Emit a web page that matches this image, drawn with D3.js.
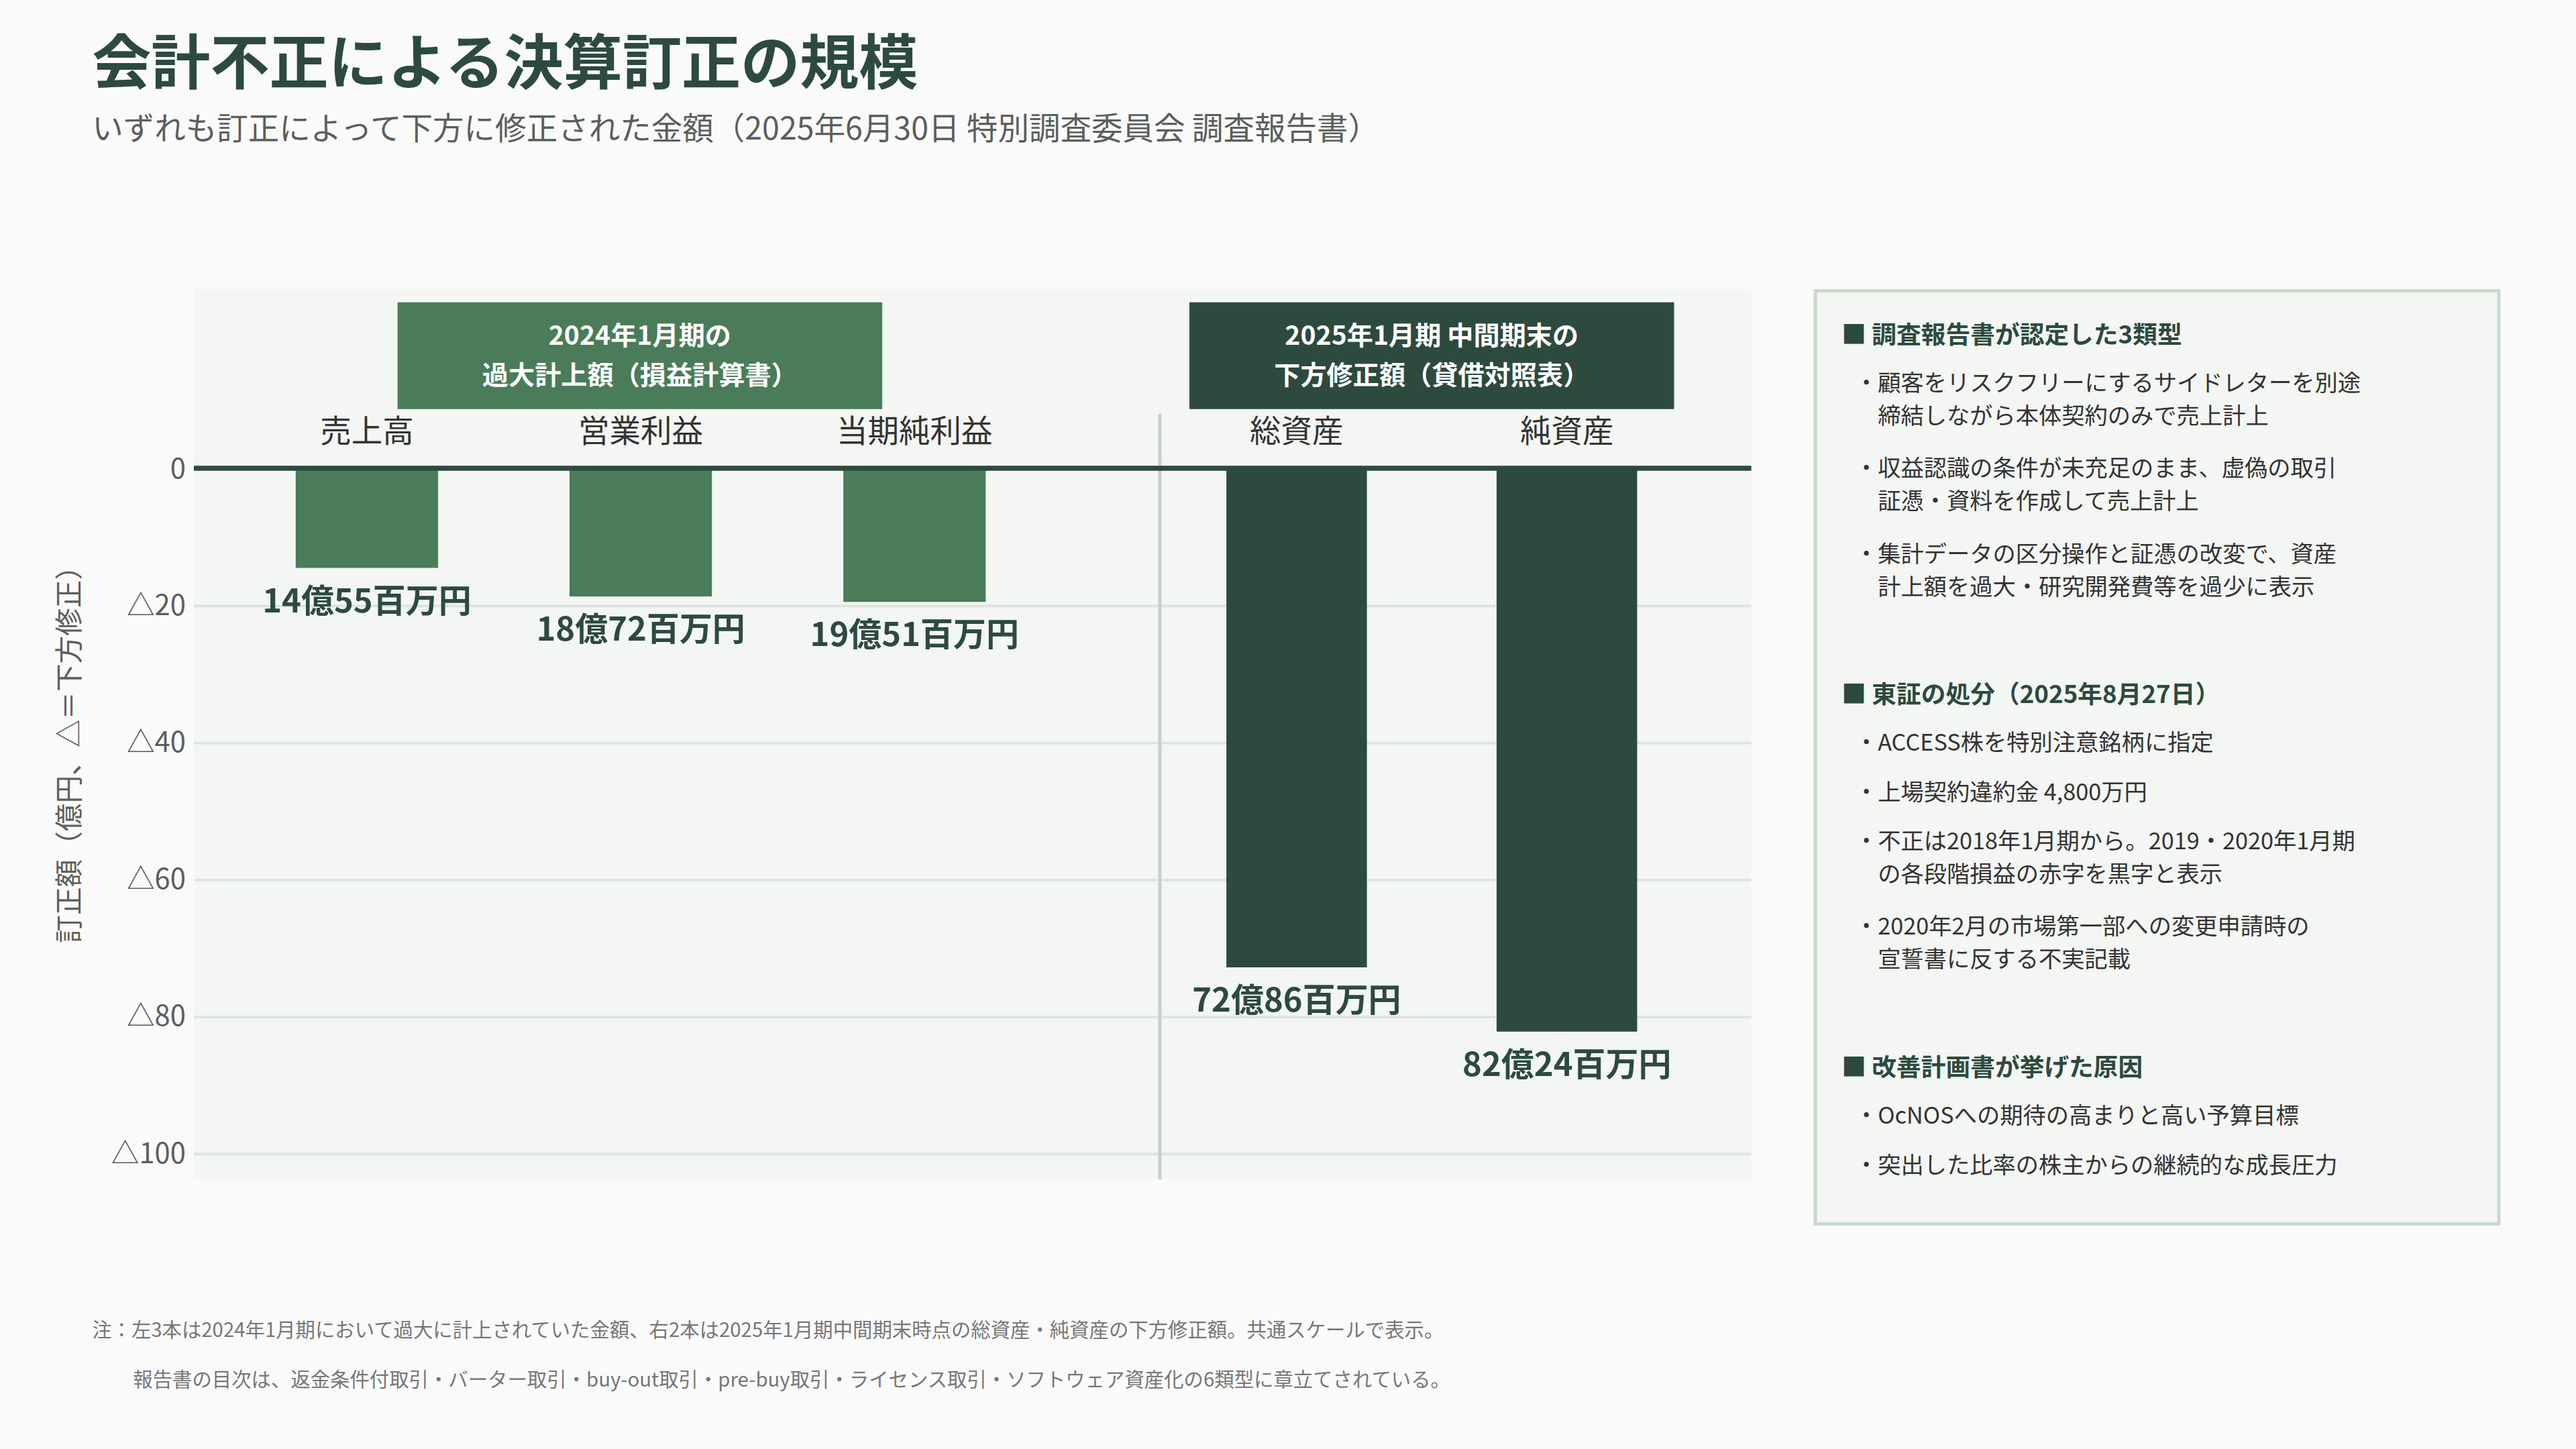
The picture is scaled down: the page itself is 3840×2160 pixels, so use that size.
<!DOCTYPE html>
<html>
<head>
<meta charset="utf-8">
<script src="https://cdn.jsdelivr.net/npm/d3@7"></script>
<style>
  html, body { margin: 0; padding: 0; background: #fafafa; }
  svg { display: block; font-family: "Noto Sans CJK JP", "Noto Sans", sans-serif; }
</style>
</head>
<body>
<svg id="chart"></svg>
<script>
// data
let pnlCategories = ['売上高', '営業利益', '当期純利益'];
let pnlValues = [14.55, 18.72, 19.51];
let pnlLabels = ['14億55百万円', '18億72百万円', '19億51百万円'];

let bsCategories = ['総資産', '純資産'];
let bsValues = [72.86, 82.24];
let bsLabels = ['72億86百万円', '82億24百万円'];

let yTicks = [0, 20, 40, 60, 80, 100];

let panelSections = [
  { head: '■ 調査報告書が認定した3類型', items: [
    ['・顧客をリスクフリーにするサイドレターを別途', '　締結しながら本体契約のみで売上計上'],
    ['・収益認識の条件が未充足のまま、虚偽の取引', '　証憑・資料を作成して売上計上'],
    ['・集計データの区分操作と証憑の改変で、資産', '　計上額を過大・研究開発費等を過少に表示']
  ]},
  { head: '■ 東証の処分（2025年8月27日）', items: [
    ['・ACCESS株を特別注意銘柄に指定'],
    ['・上場契約違約金 4,800万円'],
    ['・不正は2018年1月期から。2019・2020年1月期', '　の各段階損益の赤字を黒字と表示'],
    ['・2020年2月の市場第一部への変更申請時の', '　宣誓書に反する不実記載']
  ]},
  { head: '■ 改善計画書が挙げた原因', items: [
    ['・OcNOSへの期待の高まりと高い予算目標'],
    ['・突出した比率の株主からの継続的な成長圧力']
  ]}
];

let darkGreen = '#2d4a3e', midGreen = '#4a7c59';

let svg = d3.select('#chart')
  .attr('width', 3840).attr('height', 2160)
  .attr('viewBox', '0 0 1568 882');

svg.append('rect').attr('width', 1568).attr('height', 882).attr('fill', '#fafafa');

// title
svg.append('text').attr('x', 56).attr('y', 51)
  .attr('font-size', 36).attr('font-weight', 700).attr('fill', darkGreen)
  .text('会計不正による決算訂正の規模');
svg.append('text').attr('x', 56).attr('y', 85)
  .attr('font-size', 19).attr('fill', '#5a5f5c')
  .text('いずれも訂正によって下方に修正された金額（2025年6月30日 特別調査委員会 調査報告書）');

// plot area
let plot = { left: 118, right: 1066, top: 176, bottom: 718 };
svg.append('rect')
  .attr('x', plot.left).attr('y', plot.top)
  .attr('width', plot.right - plot.left).attr('height', plot.bottom - plot.top)
  .attr('fill', '#f3f6f3');

let y = d3.scaleLinear().domain([0, 100]).range([285, 702]);

let yAxis = svg.append('g')
  .attr('transform', 'translate(' + plot.left + ',0)')
  .call(d3.axisLeft(y).tickValues(yTicks)
    .tickSize(-(plot.right - plot.left))
    .tickFormat(d => d === 0 ? '0' : '△' + d));
yAxis.select('.domain').remove();
yAxis.selectAll('line').attr('stroke', '#dde3de').attr('stroke-width', 1.5);
yAxis.selectAll('text').attr('font-size', 17).attr('fill', '#5a5f5c')
  .attr('x', -5).attr('font-family', '"Noto Sans CJK JP", sans-serif');

svg.append('text')
  .attr('transform', 'translate(48,455) rotate(-90)')
  .attr('text-anchor', 'middle').attr('font-size', 17).attr('fill', '#5a5f5c')
  .text('訂正額（億円、△＝下方修正）');

// divider
svg.append('line').attr('x1', 706).attr('x2', 706).attr('y1', 252).attr('y2', plot.bottom)
  .attr('stroke', '#c5d0c8').attr('stroke-width', 2);

function drawGroup(cats, vals, labels, range, color, boxX, headLines) {
  let x = d3.scaleBand().domain(cats).range(range).paddingInner(0.48).paddingOuter(0.24);
  let g = svg.append('g');
  g.selectAll('rect.bar').data(vals).enter().append('rect')
    .attr('x', (d, i) => x(cats[i]))
    .attr('y', y(0))
    .attr('width', x.bandwidth())
    .attr('height', d => y(d) - y(0))
    .attr('fill', color);
  g.selectAll('text.val').data(vals).enter().append('text')
    .attr('x', (d, i) => x(cats[i]) + x.bandwidth() / 2)
    .attr('y', d => y(d) + 27)
    .attr('text-anchor', 'middle').attr('font-size', 20).attr('font-weight', 700)
    .attr('fill', darkGreen)
    .text((d, i) => labels[i]);
  g.selectAll('text.cat').data(cats).enter().append('text')
    .attr('x', d => x(d) + x.bandwidth() / 2)
    .attr('y', 269)
    .attr('text-anchor', 'middle').attr('font-size', 19).attr('fill', '#333')
    .text(d => d);
  g.append('rect').attr('x', boxX).attr('y', 184).attr('width', 295).attr('height', 65)
    .attr('fill', color);
  headLines.forEach((t, i) => {
    g.append('text').attr('x', boxX + 147.5).attr('y', 210 + i * 24)
      .attr('text-anchor', 'middle').attr('font-size', 16).attr('font-weight', 700)
      .attr('fill', '#fff').text(t);
  });
}

drawGroup(pnlCategories, pnlValues, pnlLabels, [140, 640], midGreen, 242,
  ['2024年1月期の', '過大計上額（損益計算書）']);
drawGroup(bsCategories, bsValues, bsLabels, [707, 1036], darkGreen, 724,
  ['2025年1月期 中間期末の', '下方修正額（貸借対照表）']);

// zero line
svg.append('line').attr('x1', plot.left).attr('x2', plot.right)
  .attr('y1', y(0)).attr('y2', y(0))
  .attr('stroke', darkGreen).attr('stroke-width', 3);

// right panel
svg.append('rect').attr('x', 1105).attr('y', 177).attr('width', 416).attr('height', 568)
  .attr('fill', '#f3f6f3').attr('stroke', '#c8d8cc').attr('stroke-width', 2);

let cy = 209;
panelSections.forEach((sec, si) => {
  if (si > 0) cy += 34;
  svg.append('text').attr('x', 1121).attr('y', cy)
    .attr('font-size', 15).attr('font-weight', 700).attr('fill', darkGreen).text(sec.head);
  cy += 29;
  sec.items.forEach(item => {
    item.forEach((line, li) => {
      svg.append('text').attr('x', 1129).attr('y', cy + li * 20)
        .attr('font-size', 14).attr('fill', '#333').text(line);
    });
    cy += (item.length - 1) * 20 + (item.length > 1 ? 32 : 30);
  });
});

// notes
svg.append('text').attr('x', 56).attr('y', 814).attr('font-size', 12).attr('fill', '#777')
  .text('注：左3本は2024年1月期において過大に計上されていた金額、右2本は2025年1月期中間期末時点の総資産・純資産の下方修正額。共通スケールで表示。');
svg.append('text').attr('x', 81).attr('y', 844).attr('font-size', 12).attr('fill', '#777')
  .text('報告書の目次は、返金条件付取引・バーター取引・buy-out取引・pre-buy取引・ライセンス取引・ソフトウェア資産化の6類型に章立てされている。');
</script>
</body>
</html>
